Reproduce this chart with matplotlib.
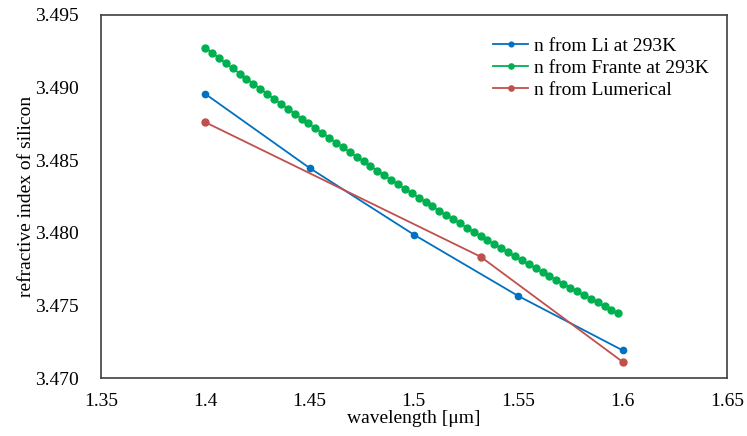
import matplotlib
matplotlib.use("Agg")
from matplotlib import pyplot as plt

plt.rcParams['font.family'] = ['Liberation Serif', 'DejaVu Serif']

# n from Li at 293K
li_x = [1.40, 1.45, 1.50, 1.55, 1.60]
li_n = [3.48956, 3.48446, 3.47987, 3.47565, 3.47191]

# n from Frante at 293K
frante_x = [1.4000, 1.4033, 1.4066, 1.4099, 1.4132, 1.4165, 1.4198, 1.4231, 1.4264, 1.4297,
            1.4330, 1.4363, 1.4396, 1.4429, 1.4462, 1.4495, 1.4528, 1.4561, 1.4594, 1.4627,
            1.4660, 1.4693, 1.4726, 1.4759, 1.4792, 1.4825, 1.4858, 1.4891, 1.4924, 1.4957,
            1.4990, 1.5023, 1.5056, 1.5089, 1.5122, 1.5155, 1.5188, 1.5221, 1.5254, 1.5287,
            1.5320, 1.5353, 1.5386, 1.5419, 1.5452, 1.5485, 1.5518, 1.5551, 1.5584, 1.5617,
            1.5650, 1.5683, 1.5716, 1.5749, 1.5782, 1.5815, 1.5848, 1.5881, 1.5914, 1.5947,
            1.5980]
frante_n = [3.49275, 3.49239, 3.49203, 3.49167, 3.49131, 3.49096, 3.49061, 3.49025, 3.48991, 3.48956,
            3.48921, 3.48887, 3.48853, 3.48819, 3.48785, 3.48752, 3.48719, 3.48686, 3.48653, 3.48620,
            3.48587, 3.48555, 3.48523, 3.48491, 3.48459, 3.48428, 3.48396, 3.48365, 3.48334, 3.48303,
            3.48273, 3.48242, 3.48212, 3.48182, 3.48152, 3.48122, 3.48093, 3.48064, 3.48035, 3.48006,
            3.47977, 3.47949, 3.47920, 3.47892, 3.47864, 3.47837, 3.47809, 3.47782, 3.47755, 3.47728,
            3.47701, 3.47675, 3.47648, 3.47622, 3.47596, 3.47570, 3.47545, 3.47520, 3.47494, 3.47469,
            3.47445]

# n from Lumerical
lum_x = [1.40, 1.532, 1.60]
lum_n = [3.48761, 3.47835, 3.47112]

x_ticks = [1.35, 1.4, 1.45, 1.5, 1.55, 1.6, 1.65]
x_labels = ['1.35', '1.4', '1.45', '1.5', '1.55', '1.6', '1.65']
y_ticks = [3.470, 3.475, 3.480, 3.485, 3.490, 3.495]
y_labels = ['3.470', '3.475', '3.480', '3.485', '3.490', '3.495']

fig = plt.figure(figsize=(7.47, 4.36), dpi=100)
ax = fig.add_axes([0.135, 0.133, 0.838, 0.833])

ax.plot(li_x, li_n, color='#0070C0', linewidth=1.3, marker='o', markersize=4.5,
        label='n from Li at 293K')
ax.plot(frante_x, frante_n, color='#00B050', linewidth=1.3, marker='o', markersize=5,
        label='n from Frante at 293K')
ax.plot(lum_x, lum_n, color='#C0504D', linewidth=1.3, marker='o', markersize=5,
        label='n from Lumerical')

ax.set_xlim(1.35, 1.65)
ax.set_ylim(3.470, 3.495)
ax.set_xticks(x_ticks)
ax.set_xticklabels(x_labels)
ax.set_yticks(y_ticks)
ax.set_yticklabels(y_labels)
ax.tick_params(length=0, labelsize=14)
ax.tick_params(axis='y', pad=16)
ax.tick_params(axis='x', pad=11)

for s in ax.spines.values():
    s.set_color('#404040')
    s.set_linewidth(1.2)

ax.set_xlabel('wavelength [\u03bcm]', fontsize=14, labelpad=0)
ax.set_ylabel('refractive index of silicon', fontsize=14, labelpad=0)

ax.legend(loc='upper right', frameon=False, fontsize=14, handlelength=1.8,
          handletextpad=0.3, labelspacing=0.22, markerscale=0.75,
          borderaxespad=0.2, bbox_to_anchor=(0.99, 0.97))

fig.savefig('out.png', dpi=100)
